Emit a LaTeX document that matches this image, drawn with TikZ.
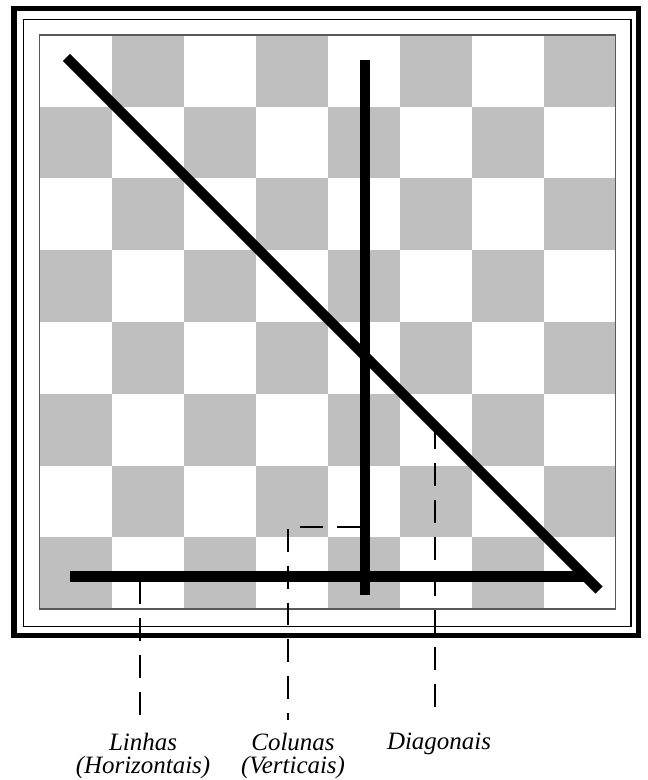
\documentclass[tikz,border=0pt]{standalone}
\usepackage{fontspec}
\setmainfont{Liberation Serif}
\usetikzlibrary{positioning,calc}

\begin{document}
\begin{tikzpicture}[x=0.02cm,y=-0.02cm]
        \tikzset{
            sq/.style={fill=black!25, draw=none},
            trace/.style={line width=5.7pt},
            guide/.style={line width=1.1pt, dash pattern=on 13pt off 8pt},
            lbl/.style={font=\fontsize{14.2}{13.1}\selectfont\itshape, align=center, inner xsep=0pt, inner ysep=7.4pt, anchor=north}
        }
        \useasboundingbox (0,0) rectangle (647,780);
        \draw[line width=2.85pt] (14,9) rectangle (638.7,635.5);
        \draw[line width=0.6pt] (23.3,19.3) rectangle (631,626.7);
        \foreach \r in {0,...,7}
            \foreach \c in {0,...,7}{
                \pgfmathparse{int(mod(\r+\c,2))}
                \ifnum\pgfmathresult=1
                    \fill[sq] ({39.5+72*\c},{35+71.75*\r}) rectangle ++(72,71.75);
                \fi
            }
        \draw[black!65, line width=0.6pt] (39.5,35) rectangle (615.7,609);
        \coordinate (d1) at (66.5,57.5);
        \coordinate (d2) at (599,590);
        \coordinate (v1) at (365,60);
        \coordinate (v2) at (365,595);
        \coordinate (h1) at (70,576.5);
        \coordinate (h2) at (585,576.5);
        \draw[trace] (d1) -- (d2);
        \draw[trace] (v1) -- (v2);
        \draw[trace] (h1) -- (h2);
        \node[lbl] (linhas) at (143,720) {Linhas\\(Horizontais)};
        \node[lbl] (colunas) at (293,720) {Colunas\\(Verticais)};
        \node[lbl] (diagonais) at (439,720) {Diagonais};
        \coordinate (lh) at (140,581);
        \coordinate (lc) at (360,527);
        \coordinate (lc2) at (288,527);
        \coordinate (ld) at (435,426);
        \draw[guide] (lh) -- (lh |- linhas.north);
        \draw[guide] (lc) -- (lc2) -- (lc2 |- colunas.north);
        \draw[guide] (ld) -- (ld |- diagonais.north);
    \end{tikzpicture}
\end{document}
